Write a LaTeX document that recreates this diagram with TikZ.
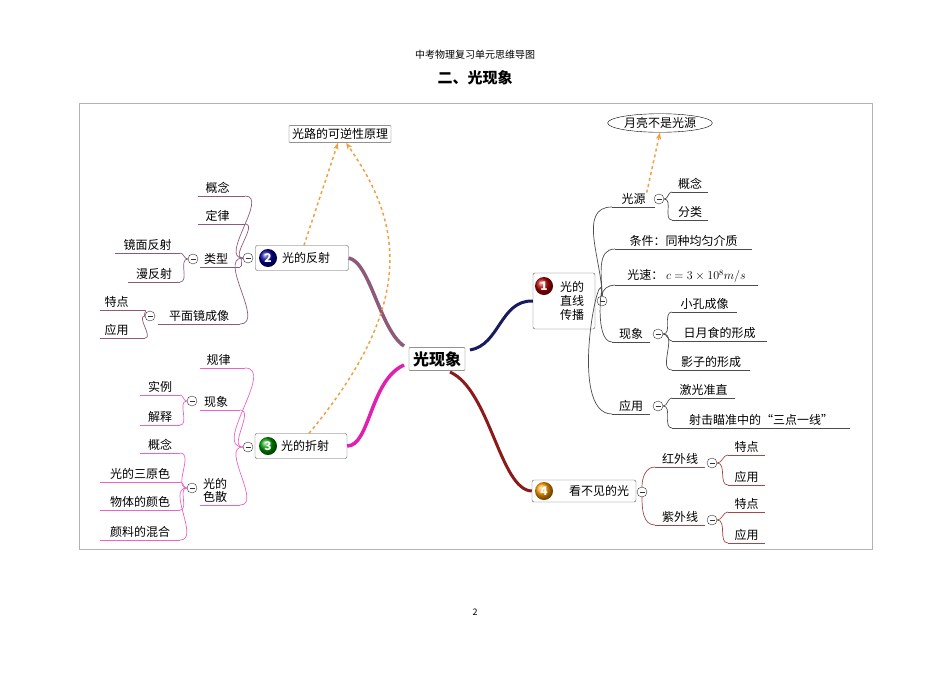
\documentclass[tikz,border=0pt]{standalone}
\usepackage{fontspec}
\setmainfont{Noto Sans CJK SC}
\usetikzlibrary{arrows.meta,shapes.geometric}
\definecolor{cA}{HTML}{1A1A5E}
\definecolor{cB}{HTML}{8E5A7A}
\definecolor{cC}{HTML}{E020B0}
\definecolor{cD}{HTML}{8B1A1A}
\definecolor{dsh}{HTML}{F0A040}
\tikzset{
 lbl/.style={font=\fontsize{12}{13}\selectfont,inner sep=1pt},
 box/.style={draw=gray!70!black,rounded corners=2pt,fill=white,font=\fontsize{12}{14}\selectfont,inner sep=2pt},
 col/.style={circle,draw=black!80,fill=white,inner sep=0pt,minimum size=10pt,
   path picture={\draw[line width=0.8pt] ([xshift=-2.5pt]path picture bounding box.center)--([xshift=2.5pt]path picture bounding box.center);}},
 badge/.style={circle,inner sep=0pt,minimum size=18pt,font=\fontsize{12}{12}\selectfont\bfseries},
 dsharr/.style={dsh,dashed,line width=1.5pt,-{Stealth[length=7pt]}},
}
\newcommand\ul[7]{% name, liney, xa, xb, text, colour, shift
 \coordinate (#1a) at (#3,#2); \coordinate (#1b) at (#4,#2);
 \draw[#6,line width=0.7pt] (#1a)--(#1b);
 \node[lbl,anchor=south] (#1) at ({(#3+#4)/2+#7},#2-1) {#5};}
\begin{document}
\begin{tikzpicture}[x=1pt,y=-1pt]
\useasboundingbox (0,0) rectangle (950,672);
\node[font=\fontsize{10}{10}\selectfont] (t1) at (475,55) {中考物理复习单元思维导图};
\node[font=\fontsize{15}{15}\selectfont\bfseries] (t2) at (475,78) {二、光现象};
\node[font=\fontsize{9}{9}\selectfont] (pg) at (475,612) {2};
\draw[gray!60] (79,103) rectangle (872,549);
% centre
\node[box,font=\fontsize{16}{16}\selectfont\bfseries,inner sep=4pt,rounded corners=1pt] (c) at (437,359) {光现象};
% branch 1
\node[box,align=left,minimum width=62pt,minimum height=56pt,text width=56pt,inner sep=3pt] (b1) at (564,301) {\hspace*{24pt}光的\\\hspace*{24pt}直线\\\hspace*{24pt}传播};
\node[badge,ball color=red!70!black,text=white] (n1) at (544,286) {1};
\draw[cA,line width=3pt] (470,350) .. controls (500,345) and (500,300) .. (b1.west);
\node[col] (k1) at (602,301) {};
\ul{gy}{207}{612}{655}{光源}{black!70}{0}
\node[col] (kgy) at (659,199) {};
\ul{gn}{192}{672}{708}{概念}{black!70}{0}
\ul{fl}{220}{672}{708}{分类}{black!70}{0}
\ul{tj}{249}{615}{752}{条件：同种均匀介质}{black!70}{0}
\ul{gs}{285}{615}{758}{光速：\ $c=3\times10^{8}m/s$}{black!70}{0}
\ul{xx}{342}{612}{650}{现象}{black!70}{0}
\node[col] (kxx) at (658,334) {};
\ul{xk}{312}{672}{737}{小孔成像}{black!70}{0}
\ul{ry}{341}{672}{767}{日月食的形成}{black!70}{0}
\ul{yz}{370}{672}{750}{影子的形成}{black!70}{0}
\ul{yy}{414}{612}{650}{应用}{black!70}{0}
\node[col] (kyy) at (658,406) {};
\ul{jg}{398}{672}{735}{激光准直}{black!70}{0}
\ul{sj}{428}{672}{850}{射击瞄准中的“三点一线”}{black!70}{0}
\foreach \t in {gy,tj,gs,xx,yy} \draw[black!70,line width=0.7pt] (k1) to[out=90,in=180] (\t a);
\foreach \t in {gn,fl} \draw[black!70,line width=0.7pt] (kgy) to[out=0,in=180] (\t a);
\foreach \t in {xk,ry,yz} \draw[black!70,line width=0.7pt] (kxx) to[out=0,in=180] (\t a);
\foreach \t in {jg,sj} \draw[black!70,line width=0.7pt] (kyy) to[out=0,in=180] (\t a);
\node[ellipse,draw,lbl,inner sep=1pt,minimum width=95pt] (moon) at (660,123) {月亮不是光源};
\draw[dsharr] (gy.north east) -- (moon.south);
% branch 4
\node[box,minimum width=104pt,minimum height=22pt,text width=90pt,align=right] (b4) at (584,491) {看不见的光\hspace*{6pt}};
\node[badge,ball color=orange!80!yellow,text=white] (n4) at (544,491) {4};
\draw[cD,line width=3pt] (450,372) .. controls (490,390) and (500,490) .. (b4.west);
\node[col] (k4) at (642,492) {};
\ul{hw}{467}{655}{705}{红外线}{cD!80}{0}
\node[col] (khw) at (712,463) {};
\ul{ha}{455}{728}{765}{特点}{cD!80}{0}
\ul{hb}{485}{728}{765}{应用}{cD!80}{0}
\ul{zw}{525}{655}{705}{紫外线}{cD!80}{0}
\node[col] (kzw) at (712,520) {};
\ul{za}{512}{728}{765}{特点}{cD!80}{0}
\ul{zb}{543}{728}{765}{应用}{cD!80}{0}
\draw[cD!80,line width=0.7pt] (k4) to[out=90,in=180] (hwa);
\draw[cD!80,line width=0.7pt] (k4) to[out=-90,in=180] (zwa);
\foreach \t in {ha,hb} \draw[cD!80,line width=0.7pt] (khw) to[out=0,in=180] (\t a);
\foreach \t in {za,zb} \draw[cD!80,line width=0.7pt] (kzw) to[out=0,in=180] (\t a);
% branch 2
\node[box,minimum width=93pt,minimum height=25pt,text width=56pt,align=right] (b2) at (302,258) {光的反射};
\node[badge,ball color=blue!60!black,text=white] (n2) at (268,258) {2};
\draw[cB,line width=3.5pt] (404,346) .. controls (380,330) and (370,262) .. (b2.east);
\node[col] (k2) at (248,258) {};
\ul{b2a}{196}{198}{245}{概念}{cB}{-4}
\ul{b2b}{224}{198}{245}{定律}{cB}{-4}
\ul{lx}{267}{200}{240}{类型}{cB}{-4}
\node[col] (klx) at (193,259) {};
\ul{jm}{253}{115}{180}{镜面反射}{cB}{0}
\ul{mf}{282}{128}{180}{漫反射}{cB}{0}
\ul{pm}{324}{158}{240}{平面镜成像}{cB}{0}
\node[col] (kpm) at (150,316) {};
\ul{tda}{310}{100}{145}{特点}{cB}{-6}
\ul{yya}{338}{100}{145}{应用}{cB}{-6}
\foreach \t in {b2a,b2b,lx,pm} \draw[cB,line width=0.7pt] (k2) to[out=180,in=0] (\t b);
\foreach \t in {jm,mf} \draw[cB,line width=0.7pt] (klx) to[out=180,in=0] (\t b);
\foreach \t in {tda,yya} \draw[cB,line width=0.7pt] (kpm) to[out=180,in=0] (\t b);
\node[box,lbl,inner sep=3pt,rounded corners=1pt] (kn) at (340,134) {光路的可逆性原理};
\draw[dsharr] ([xshift=2pt]b2.north) -- ([xshift=-2pt]kn.south);
% branch 3
\node[box,minimum width=92pt,minimum height=25pt,text width=56pt,align=right] (b3) at (301,446) {光的折射};
\node[badge,ball color=green!60!black,text=white] (n3) at (268,446) {3};
\draw[cC,line width=3.5pt] (404,365) .. controls (370,380) and (370,446) .. (b3.east);
\node[col] (k3) at (248,447) {};
\ul{gl}{368}{200}{245}{规律}{cC!70}{-4}
\ul{xs}{410}{200}{240}{现象}{cC!70}{-4}
\node[col] (kxs) at (192,401) {};
\ul{sl}{395}{140}{180}{实例}{cC!70}{0}
\ul{js}{425}{140}{180}{解释}{cC!70}{0}
\coordinate (sse) at (240,505); \draw[cC!70,line width=0.7pt] (200,505)--(sse);
\node[lbl,align=left,anchor=south] (ss) at (215,504) {光的\\色散};
\node[col] (kss) at (192,488) {};
\ul{gn3}{453}{140}{180}{概念}{cC!70}{0}
\ul{sy}{482}{100}{180}{光的三原色}{cC!70}{0}
\ul{wt}{510}{100}{180}{物体的颜色}{cC!70}{0}
\ul{yl}{540}{100}{180}{颜料的混合}{cC!70}{0}
\foreach \t in {gl,xs} \draw[cC!70,line width=0.7pt] (k3) to[out=180,in=0] (\t b);
\draw[cC!70,line width=0.7pt] (k3) to[out=180,in=0] (sse);
\foreach \t in {sl,js} \draw[cC!70,line width=0.7pt] (kxs) to[out=180,in=0] (\t b);
\foreach \t in {gn3,sy,wt,yl} \draw[cC!70,line width=0.7pt] (kss) to[out=180,in=0] (\t b);
\draw[dsharr] ([xshift=8pt]b3.north) .. controls (420,300) and (400,220) .. ([xshift=6pt]kn.south);
\end{tikzpicture}
\end{document}
